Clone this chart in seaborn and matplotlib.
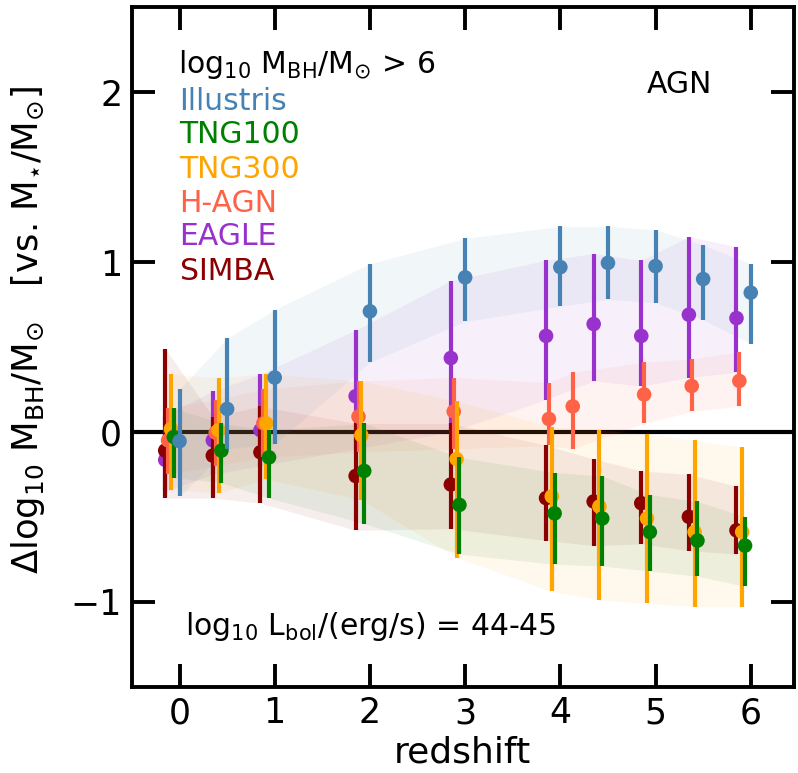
import numpy as np
import pandas as pd
import matplotlib
matplotlib.use("Agg")
import matplotlib.pyplot as plt
import seaborn as sns

# ---------------- data ----------------
sims = ["Illustris", "TNG100", "TNG300", "H-AGN", "EAGLE", "SIMBA"]
colors = ["steelblue", "green", "orange", "tomato", "darkorchid", "darkred"]
offsets = [0.0, -0.06, -0.09, -0.12, -0.15, -0.15]

z_bins = [0, 0.5, 1, 2, 3, 4, 4.5, 5, 5.5, 6]
z_hagn = [0, 0.5, 1, 2, 3, 4, 4.25, 5, 5.5, 6]

illustris_y  = [-0.055, 0.135, 0.32, 0.71, 0.91, 0.97, 0.995, 0.976, 0.90, 0.82]
illustris_lo = [-0.38, -0.10, -0.07, 0.41, 0.65, 0.74, 0.78, 0.76, 0.66, 0.52]
illustris_hi = [0.25, 0.55, 0.72, 0.99, 1.14, 1.21, 1.21, 1.19, 1.10, 0.99]

tng100_y  = [-0.03, -0.11, -0.15, -0.23, -0.43, -0.48, -0.51, -0.59, -0.64, -0.67]
tng100_lo = [-0.27, -0.30, -0.39, -0.54, -0.72, -0.78, -0.79, -0.82, -0.85, -0.91]
tng100_hi = [0.14, 0.05, 0.01, 0.05, -0.15, -0.24, -0.26, -0.37, -0.41, -0.50]

tng300_y  = [0.017, 0.01, 0.05, -0.02, -0.16, -0.38, -0.44, -0.51, -0.59, -0.59]
tng300_lo = [-0.34, -0.36, -0.28, -0.40, -0.74, -0.94, -0.99, -1.01, -1.03, -1.03]
tng300_hi = [0.34, 0.32, 0.34, 0.30, 0.18, 0.03, 0.01, -0.01, -0.05, -0.09]

hagn_y  = [-0.05, -0.005, 0.05, 0.09, 0.12, 0.076, 0.15, 0.22, 0.27, 0.30]
hagn_lo = [-0.25, -0.20, -0.15, -0.12, -0.10, -0.08, -0.10, 0.05, 0.12, 0.15]
hagn_hi = [0.14, 0.19, 0.25, 0.30, 0.32, 0.29, 0.35, 0.41, 0.43, 0.47]

eagle_y  = [-0.165, -0.05, 0.01, 0.21, 0.435, 0.565, 0.635, 0.565, 0.69, 0.67]
eagle_lo = [-0.35, -0.25, -0.20, -0.10, 0.00, 0.19, 0.30, 0.27, 0.32, 0.35]
eagle_hi = [0.10, 0.24, 0.34, 0.60, 0.89, 1.01, 1.05, 1.01, 1.15, 1.09]

simba_y  = [-0.11, -0.14, -0.12, -0.26, -0.31, -0.39, -0.41, -0.42, -0.50, -0.58]
simba_lo = [-0.39, -0.39, -0.42, -0.58, -0.57, -0.64, -0.67, -0.66, -0.70, -0.72]
simba_hi = [0.49, 0.09, 0.15, 0.05, 0.05, -0.08, -0.16, -0.23, -0.25, -0.32]

series = {
    "Illustris": (z_bins, illustris_y, illustris_lo, illustris_hi),
    "TNG100": (z_bins, tng100_y, tng100_lo, tng100_hi),
    "TNG300": (z_bins, tng300_y, tng300_lo, tng300_hi),
    "H-AGN": (z_hagn, hagn_y, hagn_lo, hagn_hi),
    "EAGLE": (z_bins, eagle_y, eagle_lo, eagle_hi),
    "SIMBA": (z_bins, simba_y, simba_lo, simba_hi),
}

rows = []
for s, off in zip(sims, offsets):
    zz, yy, lo, hi = series[s]
    for z, y, l, h in zip(zz, yy, lo, hi):
        rows.append(dict(sim=s, z=z + off, y=y, lo=l, hi=h))
df = pd.DataFrame(rows)

# ---------------- style ----------------
sns.set_style("ticks")
plt.rcParams["font.family"] = ["DejaVu Sans"]
plt.rcParams["mathtext.default"] = "regular"
for k in ["text.color", "axes.labelcolor", "xtick.color", "ytick.color",
          "axes.edgecolor"]:
    plt.rcParams[k] = "black"

fig = plt.figure(figsize=(7.98, 7.73), dpi=100)
ax = fig.add_axes([0.1653, 0.1118, 0.8292, 0.8787])

ax.axhline(0, color="black", lw=3, zorder=1)

pal = dict(zip(sims, colors))
draw_order = ["EAGLE", "SIMBA", "H-AGN", "TNG300", "TNG100", "Illustris"]
for s in draw_order:
    sub = df[df.sim == s]
    ax.fill_between(sub.z, sub.lo, sub.hi, color=pal[s], alpha=0.07,
                    lw=0, zorder=1.5)
for i, s in enumerate(draw_order):
    sub = df[df.sim == s]
    zo = 3 + i
    ax.vlines(sub.z, sub.lo, sub.hi, color=pal[s], lw=3, zorder=zo)
    sns.scatterplot(data=sub, x="z", y="y", color=pal[s], s=110,
                    edgecolor="none", linewidth=0, ax=ax, zorder=zo + 0.5,
                    legend=False)

ax.set_xlim(-0.5, 6.45)
ax.set_ylim(-1.5, 2.5)
ax.set_xticks([0, 1, 2, 3, 4, 5, 6])
ax.set_yticks([-1, 0, 1, 2])
ax.tick_params(direction="in", length=16.5, width=2.8, labelsize=25,
               top=True, right=True, pad=7, colors="black")
for sp in ax.spines.values():
    sp.set_linewidth(2.8)
    sp.set_color("black")

ax.set_xlabel("redshift", fontsize=26, labelpad=4)
ax.set_ylabel(r"$\Delta$log$_{10}$ M$_{BH}$/M$_{\odot}$   [vs. M$_{\star}$/M$_{\odot}$]",
              fontsize=25.5)
ax.yaxis.set_label_coords(-0.128, 0.525)

ax.text(0.0697, 0.903, r"log$_{10}$ M$_{BH}$/M$_{\odot}$ > 6", transform=ax.transAxes,
        fontsize=21.5, ha="left", va="baseline", color="black")
ybase = [0.8487, 0.800, 0.749, 0.699, 0.650, 0.599]
for s, yb in zip(sims, ybase):
    ax.text(0.072, yb, s, transform=ax.transAxes, fontsize=21.5,
            ha="left", va="baseline", color=pal[s])

ax.text(0.877, 0.874, "AGN", transform=ax.transAxes, fontsize=21.5,
        ha="right", va="baseline")
ax.text(0.080, 0.076, r"log$_{10}$ L$_{bol}$/(erg/s) = 44-45", transform=ax.transAxes,
        fontsize=21.5, ha="left", va="baseline")

fig.savefig("out.png", dpi=100)
